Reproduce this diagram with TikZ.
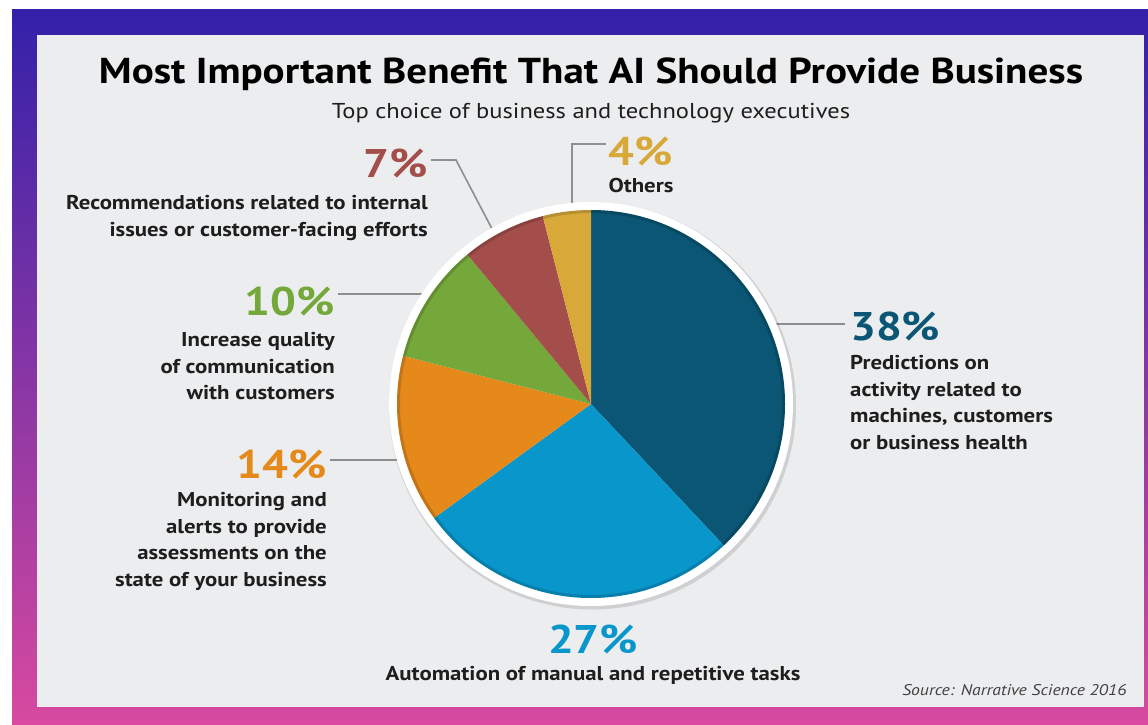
\documentclass[tikz,border=0pt]{standalone}
\usepackage{fontspec}
\setmainfont{PT Sans}[FakeStretch=1.14]
\usepackage{tikz}
\usetikzlibrary{calc}
\usetikzlibrary{positioning}

\definecolor{slA}{HTML}{0A5674}
\definecolor{slB}{HTML}{0996CB}
\definecolor{slC}{HTML}{E5891B}
\definecolor{slD}{HTML}{74A83A}
\definecolor{slE}{HTML}{A34E4B}
\definecolor{slF}{HTML}{D8A839}
\definecolor{panel}{HTML}{ECEDEF}
\definecolor{ink}{HTML}{1E1E1E}
\definecolor{leadgray}{HTML}{8E8E8E}
\definecolor{bordertop}{HTML}{3321A9}
\definecolor{borderbot}{HTML}{D84AA0}

\begin{document}
\begin{tikzpicture}[x=1pt,y=1pt]
  \tikzstyle{pct}=[font=\fontsize{40}{42}\selectfont\bfseries, inner sep=0pt]
  \tikzstyle{txt}=[font=\fontsize{20}{26.5}\selectfont\bfseries, text=ink, inner sep=0pt]
  \tikzstyle{lead}=[draw=leadgray, line width=1.6pt]
  \useasboundingbox (0,0) rectangle (1148,-725);
  \fill[white] (0,0) rectangle (1148,-725);
  \shade[top color=bordertop, bottom color=borderbot] (12,-10) rectangle (1148,-725);
  \fill[panel] (37,-35) rectangle (1144,-707);

  \node[font=\fontsize{36}{40}\selectfont\bfseries, text=black, anchor=base] (title) at (591,-83) {Most Important Benefit That AI Should Provide Business};
  \node[font=\fontsize{21.5}{26}\selectfont, text=ink, anchor=base] (sub) at (591,-118) {Top choice of business and technology executives};

  \node[pct, text=slA, anchor=base west] (p38) at (850,-340) {38\%};
  \node[txt, align=left, anchor=north west] (t38) at ([yshift=-15.5]p38.base west) {Predictions on\\activity related to\\machines, customers\\or business health};
  \node[pct, text=slB, anchor=base] (p27) at (593,-653) {27\%};
  \node[txt, anchor=base] (t27) at ([yshift=-27]p27.base) {Automation of manual and repetitive tasks};
  \node[pct, text=slC, anchor=base east] (p14) at (327,-478) {14\%};
  \node[txt, align=right, anchor=north east] (t14) at ([yshift=-14.5]p14.base east) {Monitoring and\\alerts to provide\\assessments on the\\state of your business};
  \node[pct, text=slD, anchor=base east] (p10) at (335,-315) {10\%};
  \node[txt, align=right, anchor=north east] (t10) at ([yshift=-17.5]p10.base east) {Increase quality\\of communication\\with customers};
  \node[pct, text=slE, anchor=base east] (p7) at (428,-177) {7\%};
  \node[txt, align=right, anchor=north east] (t7) at ([yshift=-18.5]p7.base east) {Recommendations related to internal\\issues or customer-facing efforts};
  \node[pct, text=slF, anchor=base] (p4) at (641,-165) {4\%};
  \node[txt, anchor=base] (t4) at ([yshift=-27]p4.base) {Others};
  \node[font=\fontsize{15.5}{18}\selectfont\itshape, text=ink!85, anchor=base east] (src) at (1130,-695) {Source: Narrative Science 2016};

  \coordinate (c) at (591,-404);
  \coordinate (e7) at ($(c)+(119.5:198)$);
  \coordinate (e4) at ($(c)+(-19,190)$);
  \draw[lead] ([shift={(-5,2)}]p38.west) -- ++(-90,0);
  \draw[lead] ([shift={(3,4)}]p14.east) -- ++(90,0);
  \draw[lead] ([shift={(3,7)}]p10.east) -- ++(100,0);
  \draw[lead] ([shift={(3,3)}]p7.east) -- ++(25,0) -- (e7);
  \draw[lead] ([shift={(-3,7)}]p4.west) -| (e4);

  \fill[black, opacity=0.12] ([shift={(1.5,-2)}]c) circle (203.5);
  \fill[white] (c) circle (202);
  \foreach \a/\b/\col in {90/-46.8/slA, -46.8/-144/slB, -144/-194.4/slC, 165.6/129.6/slD, 129.6/104.4/slE, 104.4/90/slF}
    \fill[\col] (c) -- ++(\a:194) arc (\a:\b:194) -- cycle;
  \draw[black, opacity=0.15, line width=3pt] (c) circle (192.5);
\end{tikzpicture}
\end{document}
